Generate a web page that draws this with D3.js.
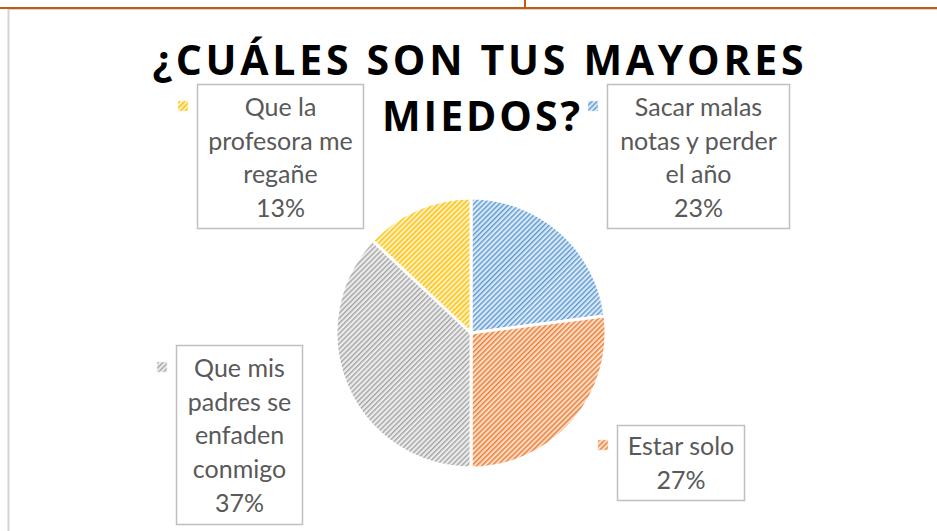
<!DOCTYPE html>
<html><head><meta charset="utf-8">
<script src="https://cdn.jsdelivr.net/npm/d3@7"></script>
<style>
html,body{margin:0;padding:0;background:#fff;}
svg{display:block;}
</style></head>
<body>
<svg id="chart" width="937" height="531"></svg>
<script>
// ---- data ----
const categories = ["Sacar malas notas y perder el año", "Estar solo", "Que mis padres se enfaden conmigo", "Que la profesora me regañe"];
const values = [23, 27, 37, 13];
const labelLines = [
  ["Sacar malas", "notas y perder", "el año"],
  ["Estar solo"],
  ["Que mis", "padres se", "enfaden", "conmigo"],
  ["Que la", "profesora me", "regañe"]
];
const titleLines = ["¿CUÁLES SON TUS MAYORES", "MIEDOS?"];

// ---- style ----
const colors = ["#5B9BD5", "#ED7D31", "#A5A5A5", "#FFC000"];
const lightColors = ["#dce8f5", "#fbdcc7", "#ececec", "#fff0c4"];
// label boxes layout (x0,y0,x1,y1) and first baseline
const boxes = [
  {x0:607, y0:84, x1:789, y1:228, base:116},
  {x0:617, y0:425, x1:744, y1:500, base:455},
  {x0:176, y0:345, x1:302, y1:524, base:377},
  {x0:197, y0:84, x1:363, y1:228, base:116}
];
const lineH = 33.7;

const svg = d3.select("#chart");
const defs = svg.append("defs");
colors.forEach((c, i) => {
  const p = defs.append("pattern").attr("id", "hatch" + i)
    .attr("patternUnits", "userSpaceOnUse").attr("width", 3.6).attr("height", 3.6)
    .attr("patternTransform", "rotate(45)");
  p.append("rect").attr("width", 3.6).attr("height", 3.6).attr("fill", lightColors[i]);
  p.append("rect").attr("x", 0).attr("width", 1.4).attr("height", 3.6).attr("fill", c);
});

// page frame lines
svg.append("rect").attr("x", 0).attr("y", 0).attr("width", 937).attr("height", 531).attr("fill", "#fff");
svg.append("line").attr("x1", 8.5).attr("x2", 8.5).attr("y1", 9).attr("y2", 531).attr("stroke", "#d4d4d4").attr("stroke-width", 2);
svg.append("line").attr("x1", 8).attr("x2", 937).attr("y1", 9.5).attr("y2", 9.5).attr("stroke", "#d4d4d4").attr("stroke-width", 1);
svg.append("line").attr("x1", 0).attr("x2", 937).attr("y1", 8).attr("y2", 8).attr("stroke", "#c55a11").attr("stroke-width", 2);
svg.append("line").attr("x1", 525).attr("x2", 525).attr("y1", 0).attr("y2", 8).attr("stroke", "#c55a11").attr("stroke-width", 2);

// title
const title = svg.append("text").attr("text-anchor", "middle")
  .attr("font-family", "'Open Sans', 'DejaVu Sans', sans-serif").attr("font-weight", 700)
  .attr("font-size", 41).attr("fill", "#000");
const titleGeo = [{x:478, y:75, w:651}, {x:481, y:131, w:198}];
titleLines.forEach((t, i) => {
  title.append("tspan").attr("x", titleGeo[i].x).attr("y", titleGeo[i].y)
    .attr("textLength", titleGeo[i].w).attr("lengthAdjust", "spacing").text(t);
});

// pie
const cx = 471, cy = 333, r = 135;
const pie = d3.pie().sort(null).value(d => d)(values);
const arc = d3.arc().innerRadius(0).outerRadius(r);
const g = svg.append("g").attr("transform", `translate(${cx},${cy})`);
g.selectAll("path.slice").data(pie).join("path").attr("class", "slice")
  .attr("d", arc).attr("fill", (d, i) => `url(#hatch${i})`)
  .attr("stroke", "#fff").attr("stroke-width", 3).attr("stroke-linejoin", "round");

// labels
const fmt = d3.format(".0%");
const total = d3.sum(values);
boxes.forEach((b, i) => {
  svg.append("rect").attr("x", b.x0 + 0.5).attr("y", b.y0 + 0.5)
    .attr("width", b.x1 - b.x0).attr("height", b.y1 - b.y0)
    .attr("fill", "#fff").attr("stroke", "#bfbfbf").attr("stroke-width", 1.5);
  const lines = labelLines[i].concat([fmt(values[i] / total)]);
  const t = svg.append("text").attr("text-anchor", "middle")
    .attr("font-family", "Lato, 'Open Sans', sans-serif").attr("font-size", 25).attr("fill", "#595959");
  lines.forEach((l, j) => {
    t.append("tspan").attr("x", (b.x0 + b.x1) / 2 + 0.5).attr("y", b.base + j * lineH).text(l);
  });
  // legend key
  svg.append("rect").attr("x", b.x0 - 19).attr("y", b.base - 15).attr("width", 10).attr("height", 10)
    .attr("fill", `url(#hatch${i})`).attr("stroke", lightColors[i]).attr("stroke-width", 0.5);
});
</script>
</body></html>
